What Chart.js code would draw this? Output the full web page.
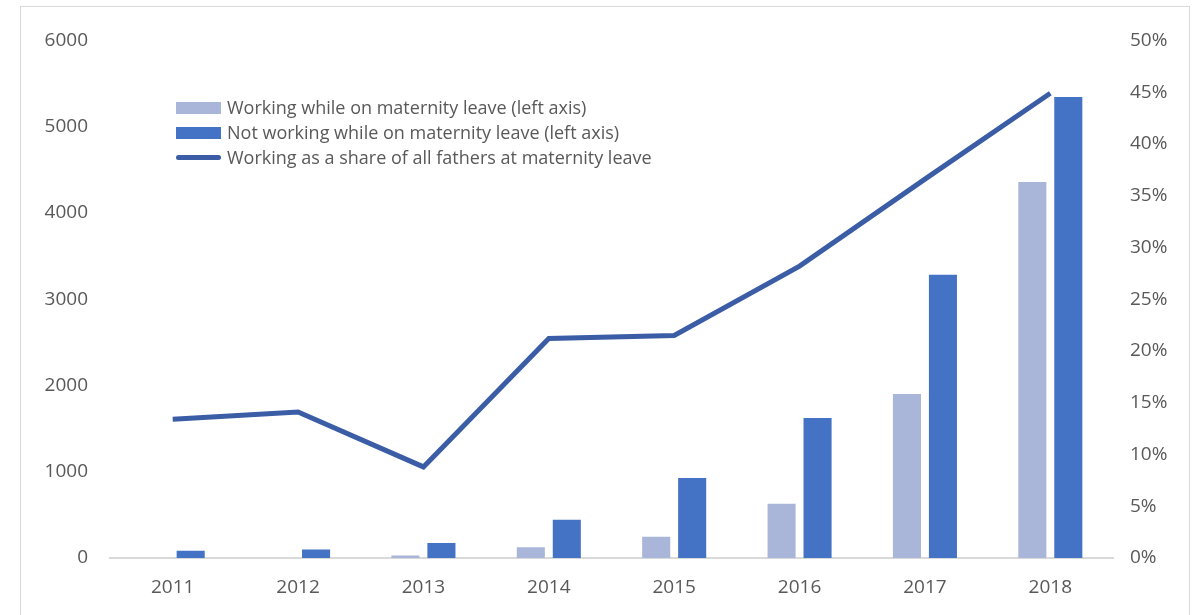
<!DOCTYPE html>
<html>
<head>
<meta charset="utf-8">
<script src="https://cdn.jsdelivr.net/npm/chart.js@4.4.1/dist/chart.umd.min.js"></script>
<style>
  html, body { margin: 0; padding: 0; background: #fff; overflow: hidden; }
  .frame {
    position: absolute; left: 20px; top: 6px; width: 1168px; height: 640px;
    border: 1.5px solid #d9d9d9; background: #fff;
  }
  .chart-box { position: absolute; left: 0; top: 0; width: 1168px; height: 608px; }
  .legend {
    position: absolute; left: 155px; top: 88px;
    font-family: 'Open Sans', sans-serif; font-size: 18px; color: #595959; line-height: 25px;
  }
  .legend-row { display: flex; align-items: center; height: 25px; }
  .swatch { width: 45px; height: 12px; margin-right: 6px; }
  .swatch-line { width: 45px; height: 5px; border-radius: 3px; margin-right: 6px; }
</style>
</head>
<body>
<div class="frame">
  <div class="chart-box"><canvas id="chart"></canvas></div>
  <div class="legend" id="legend"></div>
</div>
<script>
const years = ['2011', '2012', '2013', '2014', '2015', '2016', '2017', '2018'];
const workingOnLeave = [0, 0, 28, 125, 247, 630, 1900, 4360];
const notWorkingOnLeave = [85, 98, 173, 442, 926, 1624, 3284, 5345];
const workingShare = [13.4, 14.1, 8.8, 21.2, 21.5, 28.2, 36.6, 44.9];

const leftTicks = [0, 1000, 2000, 3000, 4000, 5000, 6000];
const rightTicks = [0, 5, 10, 15, 20, 25, 30, 35, 40, 45, 50];

const colors = {
  light: '#a9b6da',
  dark: '#4472c4',
  line: '#3a5da6',
  text: '#595959',
  axis: '#d9d9d9'
};

const seriesNames = [
  'Working while on maternity leave (left axis)',
  'Not working while on maternity leave (left axis)',
  'Working as a share of all fathers at maternity leave'
];

const tickFont = { family: "'Open Sans', sans-serif", size: 19 };

const ctx = document.getElementById('chart');
new Chart(ctx, {
  type: 'bar',
  data: {
    labels: years,
    datasets: [
      {
        type: 'line',
        label: seriesNames[2],
        data: workingShare,
        yAxisID: 'y1',
        borderColor: colors.line,
        borderWidth: 5,
        pointRadius: 0,
        tension: 0,
        order: 0
      },
      {
        label: seriesNames[0],
        data: workingOnLeave,
        yAxisID: 'y',
        backgroundColor: colors.light,
        barPercentage: 0.78,
        categoryPercentage: 0.574,
        order: 1
      },
      {
        label: seriesNames[1],
        data: notWorkingOnLeave,
        yAxisID: 'y',
        backgroundColor: colors.dark,
        barPercentage: 0.78,
        categoryPercentage: 0.574,
        order: 1
      }
    ]
  },
  options: {
    responsive: true,
    maintainAspectRatio: false,
    animation: false,
    layout: { padding: { top: 30, left: 0, right: 0, bottom: 0 } },
    plugins: { legend: { display: false }, tooltip: { enabled: false } },
    scales: {
      x: {
        grid: { display: false, drawTicks: false },
        border: { display: true, color: colors.axis, width: 2 },
        ticks: { color: colors.text, font: tickFont, padding: 18 },
        afterFit(scale) { scale.height = 57; }
      },
      y: {
        position: 'left',
        min: 0, max: 6000,
        afterBuildTicks(scale) { scale.ticks = leftTicks.map(v => ({ value: v })); },
        grid: { display: false, drawTicks: false },
        border: { display: false },
        ticks: { color: colors.text, font: tickFont, padding: 22, callback: v => String(v) },
        afterFit(scale) { scale.width = 89; }
      },
      y1: {
        position: 'right',
        min: 0, max: 50,
        afterBuildTicks(scale) { scale.ticks = rightTicks.map(v => ({ value: v })); },
        grid: { display: false, drawTicks: false },
        border: { display: false },
        ticks: { color: colors.text, font: tickFont, padding: 17, callback: v => v + '%' },
        afterFit(scale) { scale.width = 76; }
      }
    }
  }
});

const legend = document.getElementById('legend');
[
  { name: seriesNames[0], cls: 'swatch', color: colors.light },
  { name: seriesNames[1], cls: 'swatch', color: colors.dark },
  { name: seriesNames[2], cls: 'swatch-line', color: colors.line }
].forEach(item => {
  const row = document.createElement('div');
  row.className = 'legend-row';
  const sw = document.createElement('span');
  sw.className = item.cls;
  sw.style.background = item.color;
  const label = document.createElement('span');
  label.textContent = item.name;
  row.appendChild(sw);
  row.appendChild(label);
  legend.appendChild(row);
});
</script>
</body>
</html>
